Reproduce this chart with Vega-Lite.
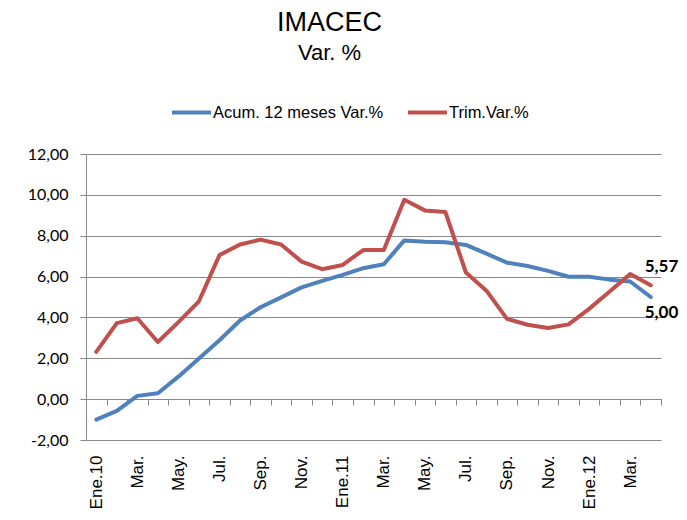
{
  "$schema": "https://vega.github.io/schema/vega-lite/v6.json",
  "autosize": {"type": "none"},
  "width": 575,
  "height": 286,
  "padding": {"left": 86, "top": 154, "right": 26, "bottom": 80},
  "background": "white",
  "title": {
    "text": "IMACEC",
    "subtitle": "Var. %",
    "anchor": "middle",
    "frame": "group",
    "dx": -44,
    "offset": 26,
    "font": "Liberation Sans",
    "fontSize": 27,
    "fontWeight": "normal",
    "color": "black",
    "subtitleFont": "Liberation Sans",
    "subtitleFontSize": 22,
    "subtitleColor": "black",
    "subtitlePadding": 6
  },
  "data": {
    "values": [
      {"mes": "Ene.10", "serie": "Acum. 12 meses Var.%", "valor": -1.00},
      {"mes": "Feb.10", "serie": "Acum. 12 meses Var.%", "valor": -0.57},
      {"mes": "Mar.10", "serie": "Acum. 12 meses Var.%", "valor": 0.16},
      {"mes": "Abr.10", "serie": "Acum. 12 meses Var.%", "valor": 0.29},
      {"mes": "May.10", "serie": "Acum. 12 meses Var.%", "valor": 1.10},
      {"mes": "Jun.10", "serie": "Acum. 12 meses Var.%", "valor": 1.99},
      {"mes": "Jul.10", "serie": "Acum. 12 meses Var.%", "valor": 2.88},
      {"mes": "Ago.10", "serie": "Acum. 12 meses Var.%", "valor": 3.85},
      {"mes": "Sep.10", "serie": "Acum. 12 meses Var.%", "valor": 4.50},
      {"mes": "Oct.10", "serie": "Acum. 12 meses Var.%", "valor": 4.98},
      {"mes": "Nov.10", "serie": "Acum. 12 meses Var.%", "valor": 5.47},
      {"mes": "Dic.10", "serie": "Acum. 12 meses Var.%", "valor": 5.79},
      {"mes": "Ene.11", "serie": "Acum. 12 meses Var.%", "valor": 6.08},
      {"mes": "Feb.11", "serie": "Acum. 12 meses Var.%", "valor": 6.41},
      {"mes": "Mar.11", "serie": "Acum. 12 meses Var.%", "valor": 6.60},
      {"mes": "Abr.11", "serie": "Acum. 12 meses Var.%", "valor": 7.77},
      {"mes": "May.11", "serie": "Acum. 12 meses Var.%", "valor": 7.70},
      {"mes": "Jun.11", "serie": "Acum. 12 meses Var.%", "valor": 7.68},
      {"mes": "Jul.11", "serie": "Acum. 12 meses Var.%", "valor": 7.55},
      {"mes": "Ago.11", "serie": "Acum. 12 meses Var.%", "valor": 7.12},
      {"mes": "Sep.11", "serie": "Acum. 12 meses Var.%", "valor": 6.68},
      {"mes": "Oct.11", "serie": "Acum. 12 meses Var.%", "valor": 6.52},
      {"mes": "Nov.11", "serie": "Acum. 12 meses Var.%", "valor": 6.28},
      {"mes": "Dic.11", "serie": "Acum. 12 meses Var.%", "valor": 5.99},
      {"mes": "Ene.12", "serie": "Acum. 12 meses Var.%", "valor": 5.99},
      {"mes": "Feb.12", "serie": "Acum. 12 meses Var.%", "valor": 5.85},
      {"mes": "Mar.12", "serie": "Acum. 12 meses Var.%", "valor": 5.76},
      {"mes": "Abr.12", "serie": "Acum. 12 meses Var.%", "valor": 5.00},
      {"mes": "Ene.10", "serie": "Trim.Var.%", "valor": 2.31},
      {"mes": "Feb.10", "serie": "Trim.Var.%", "valor": 3.72},
      {"mes": "Mar.10", "serie": "Trim.Var.%", "valor": 3.96},
      {"mes": "Abr.10", "serie": "Trim.Var.%", "valor": 2.80},
      {"mes": "May.10", "serie": "Trim.Var.%", "valor": 3.77},
      {"mes": "Jun.10", "serie": "Trim.Var.%", "valor": 4.79},
      {"mes": "Jul.10", "serie": "Trim.Var.%", "valor": 7.05},
      {"mes": "Ago.10", "serie": "Trim.Var.%", "valor": 7.57},
      {"mes": "Sep.10", "serie": "Trim.Var.%", "valor": 7.81},
      {"mes": "Oct.10", "serie": "Trim.Var.%", "valor": 7.57},
      {"mes": "Nov.10", "serie": "Trim.Var.%", "valor": 6.73},
      {"mes": "Dic.10", "serie": "Trim.Var.%", "valor": 6.36},
      {"mes": "Ene.11", "serie": "Trim.Var.%", "valor": 6.57},
      {"mes": "Feb.11", "serie": "Trim.Var.%", "valor": 7.30},
      {"mes": "Mar.11", "serie": "Trim.Var.%", "valor": 7.30},
      {"mes": "Abr.11", "serie": "Trim.Var.%", "valor": 9.76},
      {"mes": "May.11", "serie": "Trim.Var.%", "valor": 9.24},
      {"mes": "Jun.11", "serie": "Trim.Var.%", "valor": 9.16},
      {"mes": "Jul.11", "serie": "Trim.Var.%", "valor": 6.20},
      {"mes": "Ago.11", "serie": "Trim.Var.%", "valor": 5.31},
      {"mes": "Sep.11", "serie": "Trim.Var.%", "valor": 3.93},
      {"mes": "Oct.11", "serie": "Trim.Var.%", "valor": 3.64},
      {"mes": "Nov.11", "serie": "Trim.Var.%", "valor": 3.48},
      {"mes": "Dic.11", "serie": "Trim.Var.%", "valor": 3.66},
      {"mes": "Ene.12", "serie": "Trim.Var.%", "valor": 4.42},
      {"mes": "Feb.12", "serie": "Trim.Var.%", "valor": 5.27},
      {"mes": "Mar.12", "serie": "Trim.Var.%", "valor": 6.12},
      {"mes": "Abr.12", "serie": "Trim.Var.%", "valor": 5.57}
    ]
  },
  "layer": [
    {
      "mark": {"type": "line", "strokeWidth": 4, "strokeCap": "round", "strokeJoin": "round"},
      "encoding": {
        "x": {
          "field": "mes",
          "type": "ordinal",
          "sort": null,
          "scale": {
            "type": "band",
            "paddingInner": 0,
            "paddingOuter": 0,
            "domain": ["Ene.10","Feb.10","Mar.10","Abr.10","May.10","Jun.10","Jul.10","Ago.10","Sep.10","Oct.10","Nov.10","Dic.10","Ene.11","Feb.11","Mar.11","Abr.11","May.11","Jun.11","Jul.11","Ago.11","Sep.11","Oct.11","Nov.11","Dic.11","Ene.12","Feb.12","Mar.12","Abr.12"]
          },
          "axis": {
            "title": null,
            "orient": "bottom",
            "offset": -41,
            "tickBand": "extent",
            "grid": false,
            "domainColor": "#888888",
            "tickColor": "#888888",
            "tickSize": 6,
            "labelAngle": -90,
            "labelPadding": 50,
            "labelFont": "Liberation Sans",
            "labelFontSize": 17,
            "labelColor": "black",
            "labelOverlap": false,
            "labelBound": false,
            "labelExpr": "!isString(datum.value) ? '' : (slice(datum.value, 0, 3) == 'Ene' ? datum.value : (indexof(['Mar','May','Jul','Sep','Nov'], slice(datum.value, 0, 3)) >= 0 ? slice(datum.value, 0, 4) : ''))"
          }
        },
        "y": {
          "field": "valor",
          "type": "quantitative",
          "scale": {"domain": [-2, 12], "nice": false, "zero": false},
          "axis": {
            "title": null,
            "values": [-2, 0, 2, 4, 6, 8, 10, 12],
            "format": ".2f",
            "grid": true,
            "gridColor": "#888888",
            "gridWidth": 1,
            "domainColor": "#888888",
            "tickColor": "#888888",
            "tickSize": 6,
            "labelFont": "Lato",
            "labelFontSize": 16,
            "labelColor": "black",
            "labelPadding": 12
          }
        },
        "color": {
          "field": "serie",
          "type": "nominal",
          "scale": {"domain": ["Acum. 12 meses Var.%", "Trim.Var.%"], "range": ["#4F81BD", "#C0504D"]},
          "legend": {
            "title": null,
            "orient": "none",
            "legendX": 84,
            "legendY": -63,
            "direction": "horizontal",
            "symbolType": "stroke",
            "symbolSize": 1521,
            "symbolStrokeWidth": 4,
            "labelFont": "Liberation Sans",
            "labelFontSize": 16.5,
            "labelColor": "black",
            "labelOffset": 0,
            "columnPadding": 16,
            "labelLimit": 300
          }
        }
      }
    },
    {
      "transform": [
        {"filter": "datum.mes == 'Abr.12' && datum.serie == 'Trim.Var.%'"}
      ],
      "mark": {"type": "text", "align": "left", "baseline": "alphabetic", "dx": -6, "dy": -13, "font": "Lato", "fontSize": 17, "fontWeight": "bold", "color": "black"},
      "encoding": {
        "x": {"field": "mes", "type": "ordinal", "sort": null},
        "y": {"field": "valor", "type": "quantitative"},
        "text": {"field": "valor", "type": "quantitative", "format": ".2f"}
      }
    },
    {
      "transform": [
        {"filter": "datum.mes == 'Abr.12' && datum.serie == 'Acum. 12 meses Var.%'"}
      ],
      "mark": {"type": "text", "align": "left", "baseline": "alphabetic", "dx": -6, "dy": 21, "font": "Lato", "fontSize": 17, "fontWeight": "bold", "color": "black"},
      "encoding": {
        "x": {"field": "mes", "type": "ordinal", "sort": null},
        "y": {"field": "valor", "type": "quantitative"},
        "text": {"field": "valor", "type": "quantitative", "format": ".2f"}
      }
    }
  ],
  "config": {
    "view": {"stroke": null},
    "locale": {
      "number": {"decimal": ",", "thousands": ".", "grouping": [3], "currency": ["$", ""], "minus": "-"}
    }
  }
}
